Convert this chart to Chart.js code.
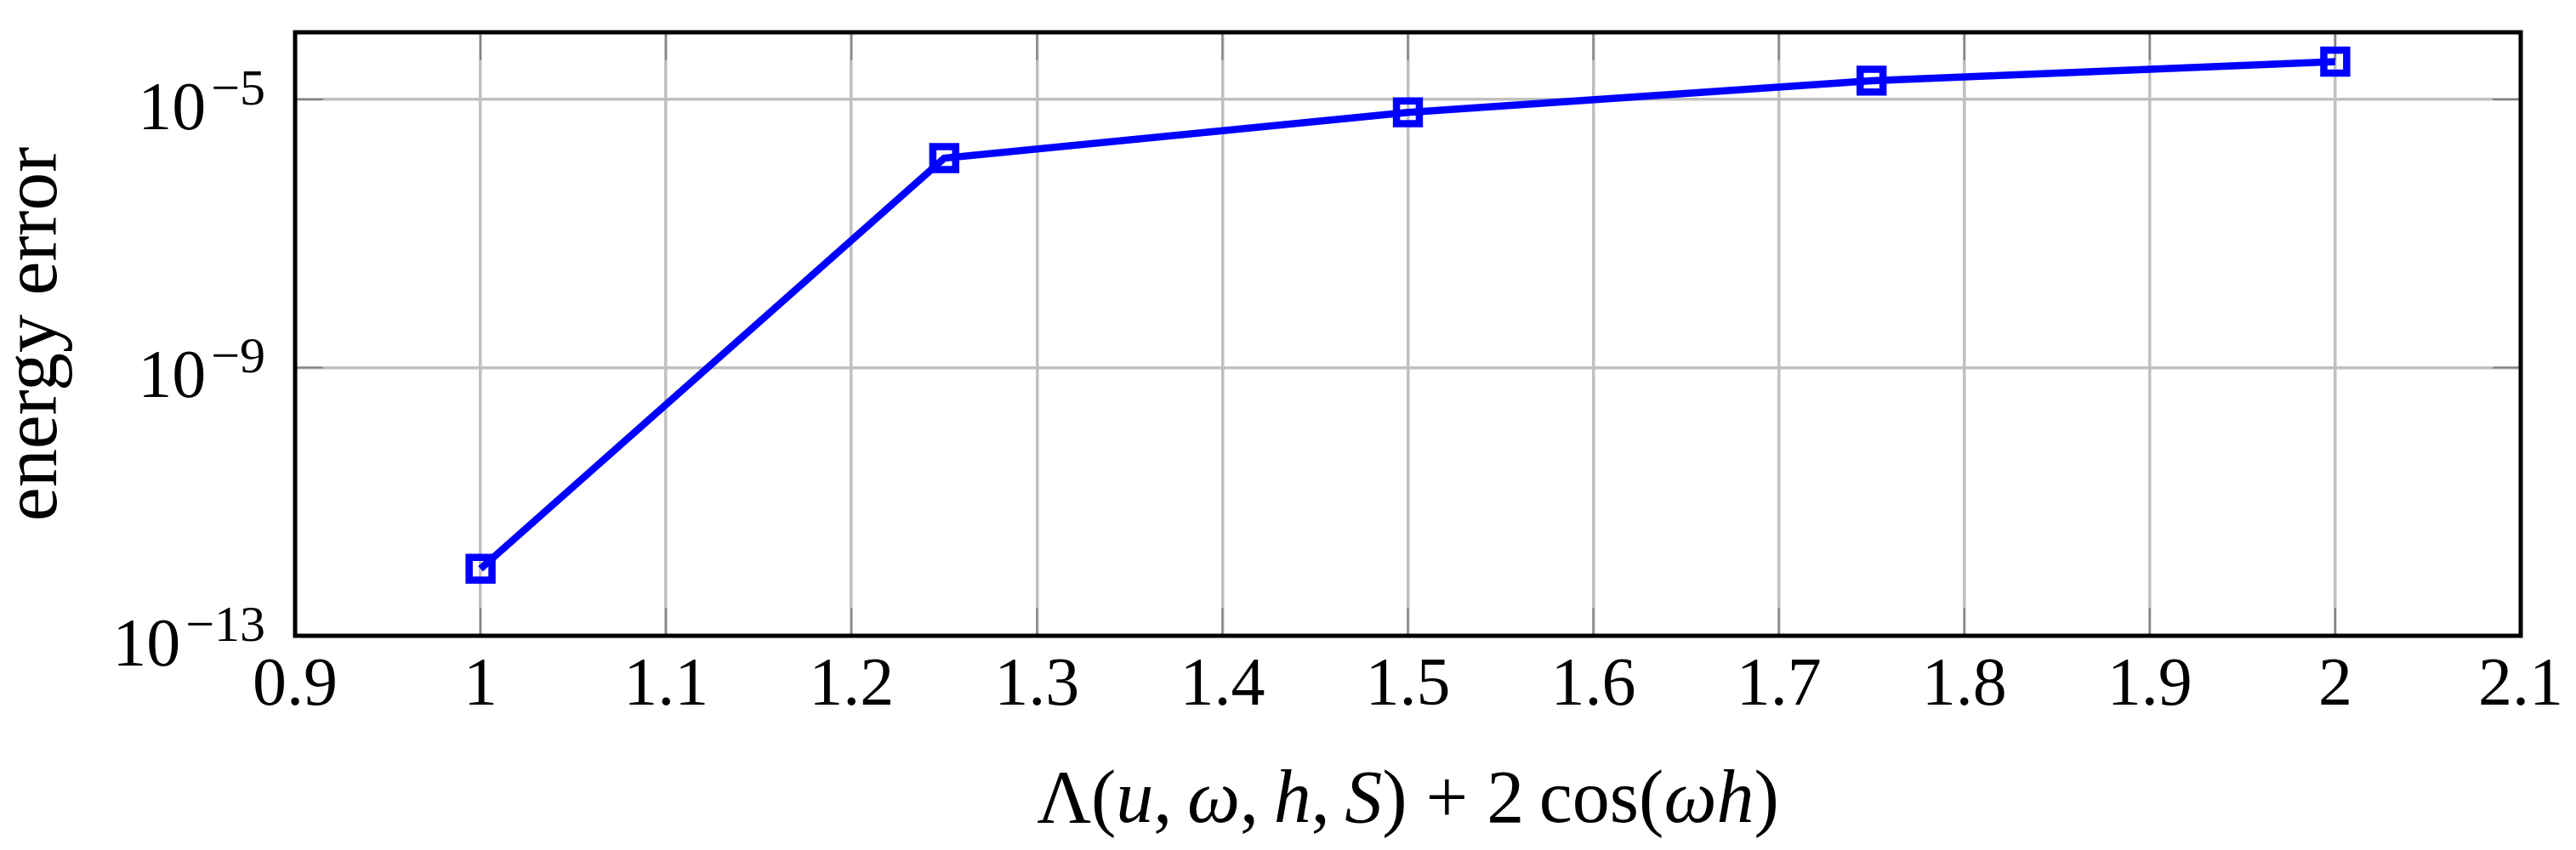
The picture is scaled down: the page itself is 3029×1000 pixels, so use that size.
<!DOCTYPE html>
<html>
<head>
<meta charset="utf-8">
<script src="https://cdn.jsdelivr.net/npm/chart.js@4.4.1/dist/chart.umd.min.js"></script>
<style>
  html, body { margin: 0; padding: 0; background: #fff; }
</style>
</head>
<body>
<canvas id="chart" width="3029" height="1000"></canvas>
<script>
// data
const xValues = [1, 1.25, 1.5, 1.75, 2];
const energyError = [1.0e-12, 1.33e-6, 6.4e-6, 1.9e-5, 3.65e-5];
const xTickValues = [0.9, 1, 1.1, 1.2, 1.3, 1.4, 1.5, 1.6, 1.7, 1.8, 1.9, 2, 2.1];
const yTickExponents = [-13, -9, -5];
const yLabel = 'energy error';
// x label pieces: [text, italic]
const xLabelParts = [
    ['Λ(', false], ['u', true], [',\u2009', false], ['ω', true], [',\u2009', false],
    ['h', true], [',\u2009', false], ['S', true], [')\u2005+\u20052\u2009cos(', false],
    ['ω', true], ['h', true], [')', false]
];

const FONT = "'Liberation Serif', 'Times New Roman', serif";

// pgfplots-like frame, inner ticks and labels
const frame = {
    id: 'frame',
    beforeDatasetsDraw(chart) {
        const { ctx, chartArea: a, scales: { x, y } } = chart;
        ctx.save();
        ctx.strokeStyle = '#808080';
        ctx.lineWidth = 2;
        ctx.beginPath();
        x.ticks.forEach(t => {
            const px = x.getPixelForValue(t.value);
            ctx.moveTo(px, a.bottom); ctx.lineTo(px, a.bottom - 33);
            ctx.moveTo(px, a.top); ctx.lineTo(px, a.top + 33);
        });
        y.ticks.forEach(t => {
            const py = y.getPixelForValue(t.value);
            ctx.moveTo(a.left, py); ctx.lineTo(a.left + 33, py);
            ctx.moveTo(a.right, py); ctx.lineTo(a.right - 33, py);
        });
        ctx.stroke();
        ctx.restore();
    },
    afterDraw(chart) {
        const { ctx, chartArea: a, scales: { y } } = chart;
        ctx.save();
        ctx.strokeStyle = '#000';
        ctx.lineWidth = 5;
        ctx.strokeRect(a.left, a.top, a.right - a.left, a.bottom - a.top);

        // y tick labels 10^e
        ctx.fillStyle = '#000';
        ctx.textBaseline = 'alphabetic';
        ctx.textAlign = 'left';
        y.ticks.forEach((t, i) => {
            const py = y.getPixelForValue(t.value);
            const exp = '\u2212' + Math.abs(yTickExponents[i]);
            ctx.font = '60px ' + FONT;
            const we = ctx.measureText(exp).width;
            ctx.font = '80px ' + FONT;
            const wb = ctx.measureText('10').width;
            const right = a.left - 35;
            ctx.fillText('10', right - we - wb - 6, py + 35);
            ctx.font = '60px ' + FONT;
            ctx.fillText(exp, right - we, py + 6);
        });

        // y title
        ctx.font = '90px ' + FONT;
        ctx.textAlign = 'center';
        ctx.save();
        ctx.translate(66, (a.top + a.bottom) / 2);
        ctx.rotate(-Math.PI / 2);
        ctx.fillText(yLabel, 0, 0);
        ctx.restore();

        // x title, mixed upright / italic
        ctx.textAlign = 'left';
        let total = 0;
        const widths = xLabelParts.map(([s, it]) => {
            ctx.font = (it ? 'italic ' : '') + '88px ' + FONT;
            const w = ctx.measureText(s).width;
            total += w;
            return w;
        });
        let cx = (a.left + a.right) / 2 - total / 2;
        xLabelParts.forEach(([s, it], i) => {
            ctx.font = (it ? 'italic ' : '') + '88px ' + FONT;
            ctx.fillText(s, cx, 967);
            cx += widths[i];
        });
        ctx.restore();
    }
};

new Chart(document.getElementById('chart').getContext('2d'), {
    type: 'line',
    data: {
        datasets: [{
            data: xValues.map((v, i) => ({ x: v, y: energyError[i] })),
            borderColor: '#0000ff',
            borderWidth: 8.5,
            pointStyle: 'rect',
            pointRadius: 19,
            pointBorderWidth: 8.5,
            pointBorderColor: '#0000ff',
            pointBackgroundColor: 'rgba(0,0,0,0)',
            tension: 0,
            fill: false
        }]
    },
    options: {
        responsive: false,
        animation: false,
        layout: { padding: { left: 0, right: 65, top: 38, bottom: 0 } },
        plugins: { legend: { display: false }, tooltip: { enabled: false } },
        scales: {
            x: {
                type: 'linear',
                min: 0.9,
                max: 2.1,
                afterBuildTicks: s => { s.ticks = xTickValues.map(v => ({ value: v })); },
                afterFit: s => { s.height = 252; },
                grid: { color: '#c0c0c0', lineWidth: 3.5, drawTicks: false },
                border: { display: false },
                ticks: {
                    padding: 12,
                    color: '#000',
                    maxRotation: 0,
                    autoSkip: false,
                    font: { family: FONT, size: 80, lineHeight: 1.2 },
                    callback: v => String(v)
                }
            },
            y: {
                type: 'logarithmic',
                min: 1e-13,
                max: 1e-4,
                afterBuildTicks: s => { s.ticks = yTickExponents.map(e => ({ value: Math.pow(10, e) })); },
                afterFit: s => { s.width = 347; },
                grid: { color: '#c0c0c0', lineWidth: 3.5, drawTicks: false },
                border: { display: false },
                ticks: { display: false }
            }
        }
    },
    plugins: [frame]
});
</script>
</body>
</html>
